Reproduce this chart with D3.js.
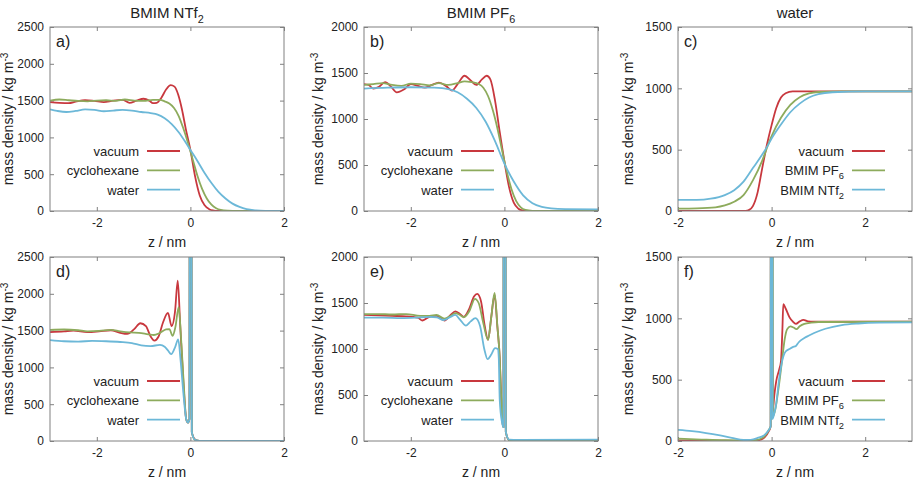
<!DOCTYPE html>
<html>
<head>
<meta charset="utf-8">
<script src="https://cdn.jsdelivr.net/npm/d3@7"></script>
<style>
	body { margin: 0; background: #fff; }
	svg { font-family: 'Liberation Sans', Arial, Helvetica, sans-serif; }
	.tick line { stroke: #808080; }
	.tick text { font-size: 12px; fill: #222; }
	.axis .domain { display: none; }
</style>
</head>
<body>
<div id="chart"></div>
<script>
// a) BMIM NTf2 surface, [z nm, density kg/m3]
const aVacuum = [[-3,1480],[-2.8,1470],[-2.6,1465],[-2.45,1485],[-2.25,1505],[-2.05,1495],[-1.85,1480],[-1.65,1500],[-1.45,1510],[-1.3,1470],[-1.15,1500],[-1.0,1525],[-0.88,1500],[-0.8,1465],[-0.72,1470],[-0.62,1540],[-0.52,1650],[-0.42,1710],[-0.34,1690],[-0.26,1580],[-0.18,1380],[-0.1,1120],[0,830],[0.1,470],[0.2,210],[0.3,80],[0.4,25],[0.5,6],[0.6,0],[2,0]];
const aCyclohexane = [[-3,1500],[-2.8,1515],[-2.6,1505],[-2.4,1495],[-2.2,1490],[-2.0,1500],[-1.8,1505],[-1.6,1495],[-1.4,1515],[-1.2,1500],[-1.0,1495],[-0.8,1510],[-0.65,1510],[-0.55,1490],[-0.45,1460],[-0.35,1400],[-0.25,1290],[-0.15,1120],[-0.05,920],[0.05,700],[0.15,480],[0.25,300],[0.35,170],[0.45,85],[0.55,38],[0.65,15],[0.8,4],[1.0,0],[2,0]];
const aWater = [[-3,1380],[-2.85,1360],[-2.65,1345],[-2.45,1360],[-2.25,1380],[-2.05,1375],[-1.85,1355],[-1.65,1365],[-1.45,1375],[-1.25,1365],[-1.05,1345],[-0.85,1330],[-0.7,1310],[-0.55,1260],[-0.4,1180],[-0.25,1070],[-0.1,930],[0,830],[0.15,680],[0.3,520],[0.45,380],[0.6,260],[0.75,170],[0.9,100],[1.05,55],[1.2,25],[1.4,8],[1.6,2],[2,0]];

// b) BMIM PF6 surface
const bVacuum = [[-3,1380],[-2.9,1370],[-2.8,1330],[-2.68,1350],[-2.55,1400],[-2.42,1350],[-2.3,1290],[-2.15,1320],[-2.0,1380],[-1.85,1360],[-1.7,1340],[-1.55,1370],[-1.4,1395],[-1.25,1360],[-1.12,1310],[-1.0,1380],[-0.85,1470],[-0.72,1420],[-0.6,1370],[-0.48,1430],[-0.38,1470],[-0.3,1430],[-0.2,1200],[-0.1,860],[0,540],[0.1,260],[0.2,90],[0.3,25],[0.4,5],[0.5,0],[2,0]];
const bCyclohexane = [[-3,1370],[-2.8,1380],[-2.6,1390],[-2.4,1370],[-2.2,1360],[-2.0,1385],[-1.8,1380],[-1.6,1365],[-1.4,1390],[-1.2,1370],[-1.0,1390],[-0.85,1410],[-0.7,1400],[-0.55,1380],[-0.45,1340],[-0.35,1250],[-0.25,1100],[-0.15,900],[-0.05,660],[0.05,430],[0.15,240],[0.25,110],[0.35,40],[0.45,12],[0.6,2],[0.8,0],[2,0]];
const bWater = [[-3,1330],[-2.5,1340],[-2,1345],[-1.5,1340],[-1.2,1325],[-1.0,1290],[-0.8,1220],[-0.6,1120],[-0.4,970],[-0.2,760],[0,515],[0.2,320],[0.4,170],[0.6,85],[0.8,45],[1.0,28],[1.3,20],[2,18]];

// c) water surface
const cVacuum = [[-2,0],[-0.6,0],[-0.5,5],[-0.4,40],[-0.3,150],[-0.2,350],[-0.1,540],[0,700],[0.1,840],[0.2,925],[0.3,960],[0.45,975],[3,975]];
const cPF6 = [[-2,20],[-1.6,22],[-1.2,30],[-1.0,45],[-0.8,75],[-0.6,130],[-0.4,250],[-0.2,410],[-0.08,535],[0,610],[0.2,760],[0.4,865],[0.6,928],[0.8,958],[1.0,970],[1.5,975],[3,975]];
const cNTf2 = [[-2,90],[-1.6,90],[-1.3,100],[-1.0,130],[-0.8,170],[-0.6,240],[-0.4,350],[-0.2,460],[-0.08,535],[0,590],[0.2,705],[0.4,805],[0.6,875],[0.8,925],[1.0,952],[1.3,968],[2,975],[3,975]];

// d) BMIM NTf2 at wall
const dVacuum = [[-3,1480],[-2.7,1490],[-2.5,1500],[-2.2,1480],[-1.95,1490],[-1.7,1505],[-1.5,1470],[-1.35,1455],[-1.2,1520],[-1.07,1600],[-0.95,1560],[-0.85,1420],[-0.77,1365],[-0.68,1420],[-0.58,1620],[-0.48,1740],[-0.4,1560],[-0.33,1750],[-0.27,2180],[-0.22,1600],[-0.15,800],[-0.09,300],[-0.05,250],[-0.02,300],[-0.01,9000],[0.01,9000],[0.03,120],[0.1,20],[0.2,0],[2,0]];
const dCyclohexane = [[-3,1510],[-2.7,1515],[-2.4,1505],[-2.2,1490],[-1.95,1495],[-1.7,1510],[-1.5,1490],[-1.3,1475],[-1.1,1470],[-0.9,1450],[-0.78,1440],[-0.65,1470],[-0.52,1515],[-0.45,1520],[-0.38,1430],[-0.32,1550],[-0.25,1820],[-0.2,1400],[-0.14,750],[-0.09,300],[-0.05,250],[-0.02,300],[-0.01,9000],[0.01,9000],[0.03,120],[0.1,15],[0.2,0],[2,0]];
const dWater = [[-3,1370],[-2.7,1355],[-2.4,1350],[-2.1,1360],[-1.8,1355],[-1.5,1345],[-1.25,1330],[-1.05,1300],[-0.85,1290],[-0.65,1305],[-0.55,1280],[-0.48,1230],[-0.41,1180],[-0.33,1270],[-0.26,1380],[-0.21,1100],[-0.15,650],[-0.09,300],[-0.05,250],[-0.02,300],[-0.01,9000],[0.01,9000],[0.03,120],[0.1,15],[0.2,0],[2,0]];

// e) BMIM PF6 at wall
const eVacuum = [[-3,1370],[-2.7,1365],[-2.4,1360],[-2.1,1355],[-1.85,1340],[-1.75,1310],[-1.6,1350],[-1.45,1360],[-1.28,1310],[-1.15,1370],[-1.05,1410],[-0.95,1380],[-0.87,1350],[-0.75,1440],[-0.65,1570],[-0.58,1600],[-0.5,1520],[-0.42,1250],[-0.35,1100],[-0.28,1350],[-0.21,1590],[-0.15,1240],[-0.1,900],[-0.07,480],[-0.04,200],[-0.02,150],[-0.01,9000],[0.01,9000],[0.03,100],[0.1,10],[0.2,0],[2,0]];
const eCyclohexane = [[-3,1380],[-2.7,1380],[-2.4,1375],[-2.1,1380],[-1.8,1360],[-1.6,1360],[-1.45,1370],[-1.28,1330],[-1.15,1360],[-1.05,1390],[-0.95,1370],[-0.87,1345],[-0.75,1410],[-0.63,1545],[-0.55,1500],[-0.45,1280],[-0.35,1100],[-0.28,1350],[-0.21,1610],[-0.15,1250],[-0.1,900],[-0.07,500],[-0.04,200],[-0.02,150],[-0.01,9000],[0.01,9000],[0.03,100],[0.1,10],[0.2,0],[2,0]];
const eWater = [[-3,1340],[-2.6,1340],[-2.2,1335],[-1.9,1340],[-1.6,1350],[-1.45,1345],[-1.3,1315],[-1.15,1350],[-1.05,1370],[-0.95,1320],[-0.82,1255],[-0.72,1300],[-0.62,1335],[-0.52,1250],[-0.43,1000],[-0.36,890],[-0.28,940],[-0.2,1010],[-0.14,1000],[-0.12,900],[-0.1,450],[-0.05,200],[-0.02,150],[-0.01,9000],[0.01,9000],[0.03,100],[0.1,15],[0.3,12],[2,15]];

// f) water at wall
const fVacuum = [[-2,5],[-1.5,3],[-1.0,2],[-0.5,0],[-0.3,5],[-0.15,30],[-0.06,80],[-0.02,120],[-0.01,9000],[0.01,9000],[0.02,230],[0.06,380],[0.1,490],[0.16,580],[0.2,650],[0.23,900],[0.25,1115],[0.3,1080],[0.38,1010],[0.45,975],[0.52,955],[0.6,975],[0.68,988],[0.78,975],[0.9,972],[1.2,972],[3,972]];
const fPF6 = [[-2,20],[-1.5,12],[-1.0,6],[-0.5,5],[-0.3,10],[-0.15,40],[-0.06,90],[-0.02,120],[-0.01,9000],[0.01,9000],[0.03,200],[0.08,260],[0.13,380],[0.18,520],[0.23,680],[0.28,830],[0.33,910],[0.4,935],[0.47,925],[0.53,912],[0.6,935],[0.7,955],[0.85,965],[1.0,970],[3,972]];
const fNTf2 = [[-2,90],[-1.7,80],[-1.4,65],[-1.1,45],[-0.85,25],[-0.6,8],[-0.45,10],[-0.3,25],[-0.15,50],[-0.06,90],[-0.02,120],[-0.01,9000],[0.01,9000],[0.02,180],[0.06,230],[0.09,280],[0.16,500],[0.23,660],[0.3,730],[0.38,750],[0.45,765],[0.52,775],[0.58,805],[0.7,840],[0.8,860],[1.0,895],[1.15,915],[1.5,945],[1.85,958],[2.3,965],[3,967]];

// labels and ticks
const columnTitles = [['BMIM NTf', '2'], ['BMIM PF', '6'], ['water', '']];
const solventLabels = [['vacuum', ''], ['cyclohexane', ''], ['water', '']];
const liquidLabels = [['vacuum', ''], ['BMIM PF', '6'], ['BMIM NTf', '2']];
const xTicks = [-2, 0, 2];
const yTicksNTf2 = [0, 500, 1000, 1500, 2000, 2500];
const yTicksPF6 = [0, 500, 1000, 1500, 2000];
const yTicksWater = [0, 500, 1000, 1500];
const seriesColors = ['#c8383e', '#8dab5c', '#6cb8d8'];

(() => {
	const svg = d3.select('#chart').append('svg')
		.attr('width', 918)
		.attr('height', 482);

	const colLeft = [50, 364, 678];
	const colLabelX = [13, 323, 633];
	const rowTop = [27, 257];
	const width = 234;
	const height = 184;

	const panels = [
		{ tag: 'a)', col: 0, row: 0, xDomain: [-3, 2], yTicks: yTicksNTf2, series: [aVacuum, aCyclohexane, aWater], labels: solventLabels, legendX: -137 },
		{ tag: 'b)', col: 1, row: 0, xDomain: [-3, 2], yTicks: yTicksPF6, series: [bVacuum, bCyclohexane, bWater], labels: solventLabels, legendX: -137 },
		{ tag: 'c)', col: 2, row: 0, xDomain: [-2, 3], yTicks: yTicksWater, series: [cVacuum, cPF6, cNTf2], labels: liquidLabels, legendX: -60 },
		{ tag: 'd)', col: 0, row: 1, xDomain: [-3, 2], yTicks: yTicksNTf2, series: [dVacuum, dCyclohexane, dWater], labels: solventLabels, legendX: -137 },
		{ tag: 'e)', col: 1, row: 1, xDomain: [-3, 2], yTicks: yTicksPF6, series: [eVacuum, eCyclohexane, eWater], labels: solventLabels, legendX: -137 },
		{ tag: 'f)', col: 2, row: 1, xDomain: [-2, 3], yTicks: yTicksWater, series: [fVacuum, fPF6, fNTf2], labels: liquidLabels, legendX: -60 }
	];

	const addSub = (sel, main, sub, size) => {
		sel.append('tspan').text(main);
		if (sub) {
			sel.append('tspan')
				.attr('dy', size * 0.3)
				.attr('font-size', size * 0.72)
				.text(sub);
		}
	};

	// column titles
	columnTitles.forEach((t, i) => {
		const title = svg.append('text')
			.attr('x', colLeft[i] + width / 2)
			.attr('y', 18)
			.attr('text-anchor', 'middle')
			.attr('font-size', 15)
			.attr('fill', '#222');
		addSub(title, t[0], t[1], 15);
	});

	panels.forEach((p, pi) => {
		const left = colLeft[p.col];
		const top = rowTop[p.row];
		const g = svg.append('g')
			.attr('transform', `translate(${left}, ${top})`);

		const x = d3.scaleLinear().domain(p.xDomain).range([0, width]);
		const y = d3.scaleLinear().domain([0, d3.max(p.yTicks)]).range([height, 0]);

		// axes, ticks pointing inward and mirrored
		g.append('g')
			.attr('class', 'axis')
			.attr('transform', `translate(0, ${height})`)
			.call(d3.axisBottom(x).tickValues(xTicks).tickSize(-4).tickPadding(7).tickFormat(d => String(d)));
		g.append('g')
			.attr('class', 'axis')
			.call(d3.axisTop(x).tickValues(xTicks).tickSize(-4).tickFormat(''));
		g.append('g')
			.attr('class', 'axis')
			.call(d3.axisLeft(y).tickValues(p.yTicks).tickSize(-4).tickPadding(6).tickFormat(d => String(d)));
		g.append('g')
			.attr('class', 'axis')
			.attr('transform', `translate(${width}, 0)`)
			.call(d3.axisRight(y).tickValues(p.yTicks).tickSize(-4).tickFormat(''));
		g.selectAll('.axis text').attr('font-family', null).attr('font-size', null);

		// clip region
		g.append('clipPath')
			.attr('id', `clip-${pi}`)
			.append('rect')
			.attr('width', width)
			.attr('height', height);

		const line = d3.line()
			.x(d => x(d[0]))
			.y(d => y(d[1]))
			.curve(d3.curveMonotoneX);

		g.append('g')
			.attr('clip-path', `url(#clip-${pi})`)
			.selectAll('path')
			.data(p.series)
			.enter().append('path')
				.attr('d', line)
				.attr('fill', 'none')
				.attr('stroke', (d, i) => seriesColors[i])
				.attr('stroke-width', 1.8)
				.attr('stroke-linejoin', 'round');

		// frame
		g.append('rect')
			.attr('width', width)
			.attr('height', height)
			.attr('fill', 'none')
			.attr('stroke', '#808080')
			.attr('stroke-width', 1);

		// legend
		p.labels.forEach((lab, i) => {
			const ly = height - 60 + i * 19.3;
			g.append('line')
				.attr('x1', width + p.legendX)
				.attr('x2', width + p.legendX + 33)
				.attr('y1', ly)
				.attr('y2', ly)
				.attr('stroke', seriesColors[i])
				.attr('stroke-width', 1.8);
			const t = g.append('text')
				.attr('x', width + p.legendX - 8)
				.attr('y', ly + 5)
				.attr('text-anchor', 'end')
				.attr('font-size', 13)
				.attr('fill', '#222');
			addSub(t, lab[0], lab[1], 13);
		});

		// panel tag
		g.append('text')
			.attr('x', 6)
			.attr('y', 20)
			.attr('font-size', 16)
			.attr('fill', '#222')
			.text(p.tag);

		// axis labels
		svg.append('text')
			.attr('x', left + width / 2)
			.attr('y', top + height + 36)
			.attr('text-anchor', 'middle')
			.attr('font-size', 14)
			.attr('fill', '#222')
			.text('z / nm');
		const yl = svg.append('text')
			.attr('transform', 'rotate(-90)')
			.attr('x', -(top + height / 2))
			.attr('y', colLabelX[p.col])
			.attr('text-anchor', 'middle')
			.attr('font-size', 14)
			.attr('fill', '#222');
		yl.append('tspan').text('mass density / kg m');
		yl.append('tspan')
			.attr('dy', -5)
			.attr('font-size', 10)
			.text('-3');
	});
})();
</script>
</body>
</html>
